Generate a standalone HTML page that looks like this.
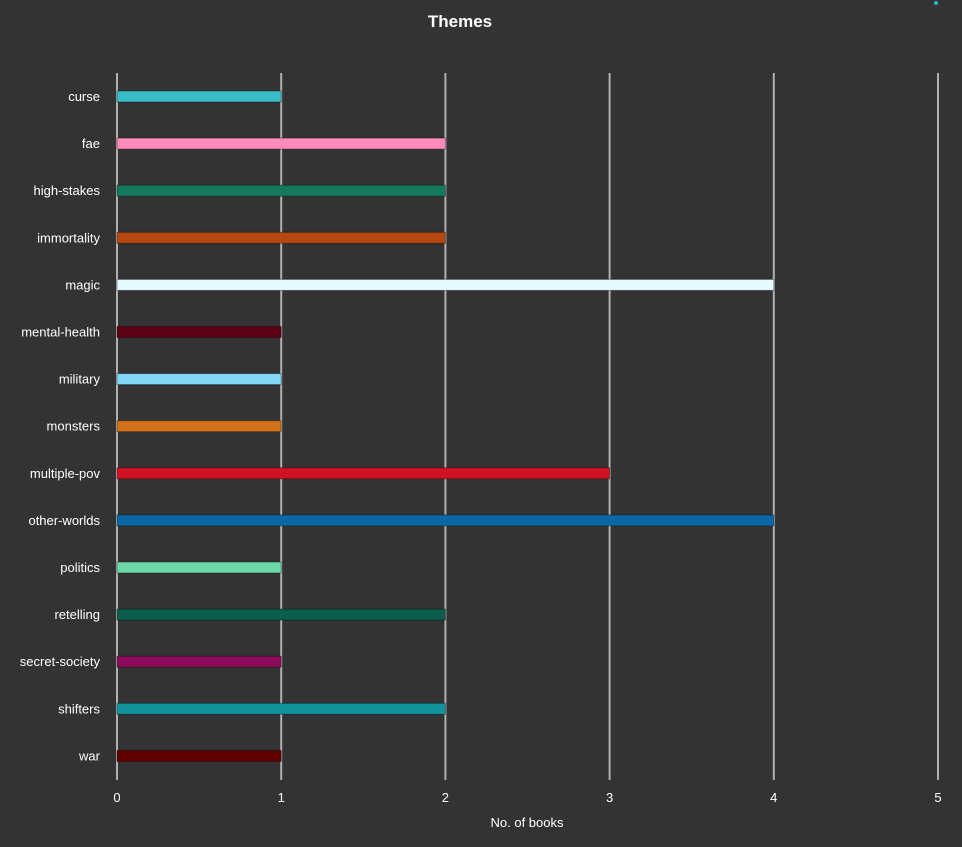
<!DOCTYPE html>
<html><head><meta charset="utf-8"><style>
html,body{margin:0;padding:0;background:#333333;}
svg{display:block;font-family:"Liberation Sans",sans-serif;}
</style></head><body>
<svg id="chart" width="962" height="847" viewBox="0 0 962 847">
<rect width="962" height="847" fill="#333333"/>
<text x="460" y="27" text-anchor="middle" fill="#ffffff" font-size="17" font-weight="bold">Themes</text>
<circle cx="936" cy="3" r="2" fill="#22b8c8"/>
<g id="grid"></g><g id="bars"></g><g id="ylabels"></g><g id="xlabels"></g>
<text x="527" y="827" text-anchor="middle" fill="#ffffff" font-size="13">No. of books</text>
</svg>
<script>
const categories=["curse","fae","high-stakes","immortality","magic","mental-health","military","monsters","multiple-pov","other-worlds","politics","retelling","secret-society","shifters","war"];
const values=[1,2,2,2,4,1,1,1,3,4,1,2,1,2,1];
const colors=["#38bdc8","#ff8cb8","#147a5e","#b5480f","#e6fbff","#5c0015","#80d8f5","#d2711a","#d01224","#0b67a3","#6cd8a8","#0b5e4b","#8c0b5a","#12939c","#600000"];
const xTicks=[0,1,2,3,4,5];
const NS="http://www.w3.org/2000/svg";
const x0=117,x1=938,xMax=5,yTop=73,yBot=780,row0=96.5,rowStep=47.1,barH=11;
const xs=v=>x0+(x1-x0)*v/xMax;
const ys=i=>row0+i*rowStep;
function mk(t,a,p){const e=document.createElementNS(NS,t);for(const k in a)e.setAttribute(k,a[k]);p.appendChild(e);return e;}
const g=document.getElementById('grid'),b=document.getElementById('bars'),yl=document.getElementById('ylabels'),xl=document.getElementById('xlabels');
xTicks.forEach(t=>{
 const l=mk('line',{x1:xs(t),x2:xs(t),y1:yTop,y2:yBot,stroke:'#b0b0b0','stroke-width':2},g);
 
 
 const tx=mk('text',{x:xs(t),y:802,'text-anchor':'middle',fill:'#ffffff','font-size':13},xl);
 tx.textContent=t;
 
 
});
categories.forEach((c,i)=>{
 const r=mk('rect',{x:xs(0),y:ys(i)-barH/2,width:xs(values[i])-xs(0),height:barH,fill:colors[i],stroke:'rgba(0,0,0,0.35)','stroke-width':1},b);
 
 
 const tx=mk('text',{x:100,y:ys(i)+4.5,'text-anchor':'end',fill:'#ffffff','font-size':13},yl);
 tx.textContent=c;
 
 
});
</script>
</body></html>
